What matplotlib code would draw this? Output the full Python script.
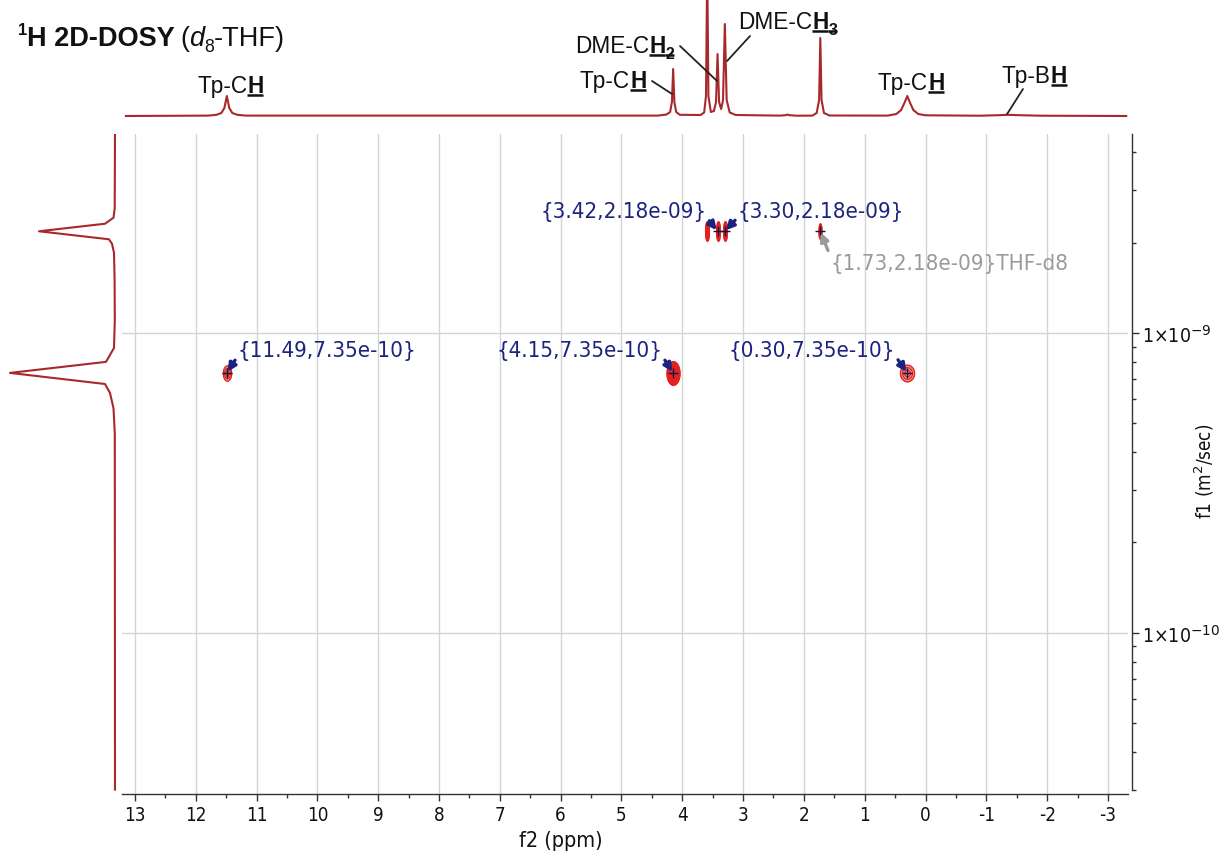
import matplotlib
matplotlib.use("Agg")
import matplotlib.pyplot as plt
import numpy as np
from matplotlib.path import Path
from matplotlib.markers import MarkerStyle
from matplotlib.lines import Line2D
from matplotlib.ticker import LogLocator, NullFormatter

# ---------------- data ----------------
# 1D 1H projection (top trace): chemical shift (ppm) and intensity (arbitrary units)
spec_ppm = [13.15, 11.80, 11.66, 11.58, 11.53, 11.49, 11.45, 11.40, 11.32, 11.18,
            4.40, 4.26, 4.20, 4.17, 4.15, 4.13, 4.10, 4.04,
            3.70, 3.64, 3.61, 3.59, 3.57, 3.53, 3.48, 3.445, 3.42, 3.395, 3.36, 3.33,
            3.30, 3.27, 3.22, 3.12,
            2.40, 2.30, 2.27, 2.24, 2.12,
            1.86, 1.79, 1.75, 1.73, 1.71, 1.67, 1.58,
            0.62, 0.48, 0.40, 0.34, 0.30, 0.26, 0.20, 0.12, 0.00,
            -0.90, -1.20, -1.35, -1.55, -1.90, -3.30]
spec_int = [0.0, 0.4, 1.2, 3.0, 8.0, 20.0, 8.0, 3.0, 1.2, 0.4,
            0.4, 1.5, 4.0, 14.0, 47.0, 14.0, 4.0, 1.2,
            1.0, 3.5, 20.0, 150.0, 20.0, 4.0, 5.0, 14.0, 62.0, 14.0, 7.0, 16.0,
            92.0, 16.0, 3.5, 1.0,
            0.4, 0.8, 1.5, 0.8, 0.3,
            0.4, 3.0, 16.0, 78.0, 16.0, 3.0, 0.5,
            0.4, 2.0, 6.0, 14.0, 20.0, 14.0, 6.0, 2.0, 0.7,
            0.3, 0.8, 1.2, 0.8, 0.3, 0.0]

# diffusion projection (left trace): D (m^2/s) and intensity
proj_D = [4.6e-9, 2.6e-9, 2.42e-9, 2.31e-9, 2.18e-9, 2.05e-9, 1.98e-9, 1.85e-9,
          1.5e-9, 1.1e-9, 8.9e-10, 8.0e-10, 7.35e-10, 6.75e-10, 6.3e-10, 5.6e-10,
          4.6e-10, 3.0e-11]
proj_I = [0.0, 0.3, 1.5, 10.0, 76.0, 6.0, 3.0, 1.0,
          0.4, 0.2, 1.0, 9.0, 105.0, 10.0, 5.0, 1.5,
          0.2, 0.0]

# 2D cross peaks (ppm, D)
cross_ppm = [11.49, 4.15, 0.30, 3.59, 3.42, 3.30, 1.73]
cross_D = [7.35e-10, 7.35e-10, 7.35e-10, 2.18e-9, 2.18e-9, 2.18e-9, 2.18e-9]

# labelled peaks
ann_ppm = [3.42, 3.30, 1.73, 11.49, 4.15, 0.30]
ann_D = [2.18e-9, 2.18e-9, 2.18e-9, 7.35e-10, 7.35e-10, 7.35e-10]
ann_suffix = ["", "", "THF-d8", "", "", ""]

x_ticks = [13, 12, 11, 10, 9, 8, 7, 6, 5, 4, 3, 2, 1, 0, -1, -2, -3]
x_ticklabels = ["13", "12", "11", "10", "9", "8", "7", "6", "5", "4", "3", "2", "1",
                "0", "-1", "-2", "-3"]
y_ticks = [1e-10, 1e-9]
y_ticklabels = [r"1×10$^{-10}$", r"1×10$^{-9}$"]

# ---------------- style ----------------
W, H = 1220, 853
XL = (13.214, -3.33)
YL = (2.9e-11, 4.6e-9)
RED = "#a8282c"
NAVY = "#1c237e"
GRAY = "#9a9a9a"
CONT = "#e3221f"
ARIAL = "Liberation Sans"

plt.rcParams["font.family"] = ["DejaVu Sans"]
plt.rcParams["mathtext.fontset"] = "dejavusans"
fig = plt.figure(figsize=(W / 100, H / 100), dpi=100)
fig.patch.set_facecolor("white")

# main 2D axes
ax = fig.add_axes([122 / W, 1 - 795 / H, 1006 / W, 660 / H])
ax.set_yscale("log")
ax.set_xlim(*XL)
ax.set_ylim(*YL)
ax.set_xticks(x_ticks)
ax.set_xticklabels(x_ticklabels)
ax.set_xticks(np.arange(12.5, -3.4, -1.0), minor=True)
ax.set_yticks(y_ticks)
ax.set_yticklabels(y_ticklabels)
ax.yaxis.set_minor_locator(LogLocator(base=10, subs=np.arange(2, 10)))
ax.yaxis.set_minor_formatter(NullFormatter())
ax.yaxis.tick_right()
ax.yaxis.set_label_position("right")
for s in ("left", "top"):
    ax.spines[s].set_visible(False)
ax.spines["right"].set_position(("outward", 3))
ax.spines["right"].set_bounds(3.0e-11, YL[1])
for s in ("right", "bottom"):
    ax.spines[s].set_color("#333333")
    ax.spines[s].set_linewidth(1.0)
ax.grid(True, which="major", color="#d4d4d4", lw=1.0)
ax.tick_params(axis="x", which="major", direction="out", length=5, width=1,
               color="#333333", labelsize=13.5, pad=3, labelcolor="#111111")
ax.tick_params(axis="x", which="minor", direction="out", length=3, width=1, color="#333333")
ax.tick_params(axis="y", which="major", direction="out", length=5, width=1,
               color="#333333", labelsize=14, pad=2, labelcolor="#111111")
ax.tick_params(axis="y", which="minor", direction="out", length=3, width=1, color="#333333")
for lab in ax.get_xticklabels() + ax.get_yticklabels():
    lab.set_fontstretch("condensed")
ax.set_xlabel("f2 (ppm)", fontsize=15.5, color="#111111", fontstretch="condensed")
ax.xaxis.set_label_coords((561 - 122) / 1006, -0.055)
ax.set_ylabel(r"f1 (m$^2$/sec)", fontsize=13.5, color="#111111", fontstretch="condensed")
ax.yaxis.set_label_coords((1193 - 122) / 1006, 0.49)

# cross peaks as small contour-like ellipses
def ell_marker(aspect):
    t = np.linspace(0, 2 * np.pi, 60)
    return MarkerStyle(Path(np.column_stack([aspect * np.cos(t), np.sin(t)]), closed=True))

cross_style = [(0.55, 11, 0.35), (0.55, 17, 1.0), (0.85, 12, 0.45),
               (0.2, 14, 1.0), (0.2, 14, 1.0), (0.2, 14, 1.0), (0.2, 11, 1.0)]
for (p, d, (asp, size, fillalpha)) in zip(cross_ppm, cross_D, cross_style):
    m = ell_marker(asp)
    ax.plot([p], [d], marker=m, ms=size, mfc=CONT, mec=CONT, mew=0.8, ls="none",
            alpha=fillalpha, zorder=4)
    for frac in (1.0, 0.7, 0.4):
        ax.plot([p], [d], marker=m, ms=size * frac, mfc="none", mec=CONT, mew=0.9,
                ls="none", zorder=5)

ax.plot(ann_ppm, ann_D, ls="none", marker="+", ms=7, mew=1.0, color="#151540", zorder=6)

ann_layout = [(-11, 20, "right", (1, 0.2), NAVY),
              (13, 20, "left", (0, 0.2), NAVY),
              (10, -32, "left", (0, 0.85), GRAY),
              (11, 23, "left", (0, 0.2), NAVY),
              (-11, 23, "right", (1, 0.2), NAVY),
              (-12, 23, "right", (1, 0.2), NAVY)]
for p, d, suf, (dx, dy, ha, rp, col) in zip(ann_ppm, ann_D, ann_suffix, ann_layout):
    txt = "{%.2f,%.2e}%s" % (p, d, suf)
    ax.annotate(txt, xy=(p, d), xycoords="data", xytext=(dx, dy),
                textcoords="offset pixels", ha=ha, va="center", fontsize=16,
                color=col, fontstretch="condensed", zorder=7,
                arrowprops=dict(arrowstyle="-|>", color=col, lw=2.4, shrinkA=0,
                                shrinkB=1, relpos=rp, mutation_scale=12))

# top 1D spectrum
axt = fig.add_axes([122 / W, 1 - 122 / H, 1006 / W, 122 / H])
axt.set_xlim(*XL)
axt.set_ylim(-5, 117)
axt.axis("off")
axt.plot(spec_ppm, spec_int, color=RED, lw=1.5)

# left projection
axl = fig.add_axes([0, 1 - 795 / H, 122 / W, 660 / H])
axl.set_yscale("log")
axl.set_ylim(*YL)
axl.set_xlim(115, -7)
axl.axis("off")
axl.plot(proj_I, proj_D, color=RED, lw=1.5)

# ---------------- rich text labels ----------------
renderer = fig.canvas.get_renderer()


def rich(x_px, y_px, parts, size, color="#111111"):
    x = x_px
    for s, kw in parts:
        fs = size * kw.get("scale", 1.0)
        dy = kw.get("dy", 0.0) * size * 100 / 72
        t = fig.text(x / W, 1 - (y_px - dy) / H, s, fontsize=fs, family=ARIAL,
                     fontweight=kw.get("weight", "normal"),
                     fontstyle=kw.get("style", "normal"),
                     ha="left", va="baseline", color=color)
        bb = t.get_window_extent(renderer)
        if kw.get("ul"):
            yy = H - y_px - 3
            fig.add_artist(Line2D([bb.x0 / W, bb.x1 / W], [yy / H, yy / H],
                                  transform=fig.transFigure, color=color, lw=1.8,
                                  solid_capstyle="butt"))
        x = bb.x1 + kw.get("gap", 0.0)


BU = {"weight": "bold", "ul": True}
SUBBU = {"weight": "bold", "ul": True, "scale": 0.7, "dy": -0.25}

rich(18, 46, [("1", {"weight": "bold", "scale": 0.62, "dy": 0.42}),
              ("H 2D-DOSY", {"weight": "bold", "gap": 5}),
              ("(", {}), ("d", {"style": "italic"}),
              ("8", {"scale": 0.65, "dy": -0.22}), ("-THF)", {})], 19.5)

lbl_size = 16.3
rich(197, 93, [("Tp-C", {}), ("H", BU)], lbl_size)
rich(580, 88, [("Tp-C", {}), ("H", BU)], lbl_size)
rich(575, 53, [("DME-C", {}), ("H", BU), ("2", SUBBU)], lbl_size)
rich(738, 29, [("DME-C", {}), ("H", BU), ("3", SUBBU)], lbl_size)
rich(878, 90, [("Tp-C", {}), ("H", BU)], lbl_size)
rich(1002, 83, [("Tp-B", {}), ("H", BU)], lbl_size)

# leader lines from labels to peaks
leaders = [((652, 82), (4.168, 22)), ((680, 47), (3.428, 35)),
           ((750, 37), (3.263, 55)), ((1023, 90), (-1.342, 2))]
for (px, py), (lp, lh) in leaders:
    axt.annotate("", xy=(lp, lh), xycoords="data", xytext=(px, H - py),
                 textcoords="figure pixels", annotation_clip=False,
                 arrowprops=dict(arrowstyle="-", lw=1.3, color="#222222",
                                 shrinkA=0, shrinkB=0))

fig.savefig("out.png", dpi=100)
